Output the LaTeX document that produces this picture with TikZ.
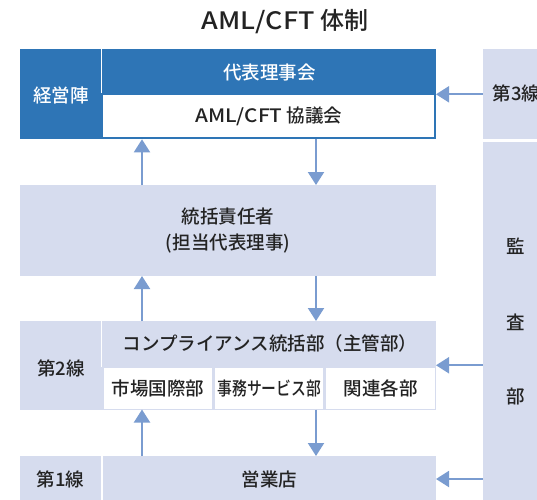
\documentclass[tikz,border=0pt]{standalone}
\usepackage{fontspec}
\usepackage{graphicx}
\setmainfont{Noto Sans CJK JP}[UprightFont=* Medium]
\usetikzlibrary{arrows.meta}
\definecolor{dblue}{RGB}{46,117,182}
\definecolor{lfill}{RGB}{214,220,238}
\definecolor{acol}{RGB}{122,156,208}
\definecolor{tcol}{RGB}{35,35,35}
\newcommand{\wlat}[1]{\scalebox{1.12}[1]{#1}}
\begin{document}
\begin{tikzpicture}[x=1pt,y=-1pt,
  font=\fontsize{18.5}{26}\selectfont,
  box/.style={anchor=north west, inner sep=0pt, outer sep=0pt, text=tcol},
  lbox/.style={box, fill=lfill},
  wbox/.style={box, fill=white},
  lbl/.style={text=tcol, inner sep=0pt},
  arr/.style={draw=acol, line width=2pt, -{Triangle[width=16pt,length=13pt]}}]
\clip (0,0) rectangle (537,499);
\useasboundingbox (0,0) rectangle (537,499);
% title
\node[lbl, font=\fontsize{24}{28}\selectfont] (title) at (285,22) {\wlat{AML/CFT} 体制};
% management block
\node[box, fill=dblue, minimum width=416pt, minimum height=90pt] (top) at (20,49.3) {};
\node[wbox, minimum width=330.7pt, minimum height=42pt] (aml) at (103.3,95) {\wlat{AML/CFT} 協議会};
\draw[white, line width=1.5pt] (101.7,49.3) -- (101.7,93.3);
\node[lbl, text=white] (mgmt) at (61,95) {経営陣};
\node[lbl, text=white] (board) at (269.5,72) {代表理事会};
% chief officer
\node[lbox, minimum width=416pt, minimum height=91pt, align=center] (gov) at (20,185) {統括責任者\\(担当代表理事)};
% second line
\node[lbox, minimum width=416pt, minimum height=88.5pt] (sec) at (20,321) {};
\draw[white, line width=1.5pt] (101.7,321) -- (101.7,367);
\node[lbl] (l2) at (61,368) {第2線};
\node[lbl] (comp) at (270,343.3) {コンプライアンス統括部（主管部）};
\node[wbox, minimum width=108.2pt, minimum height=41.5pt] (m1) at (104,367.5) {市場国際部};
\node[wbox, minimum width=108.2pt, minimum height=41.5pt] (m2) at (215.2,367.5) {\scalebox{0.8}[1]{事務サービス部}};
\node[wbox, minimum width=108.2pt, minimum height=41.5pt] (m3) at (326.4,367.5) {関連各部};
% first line
\node[lbox, minimum width=80.8pt, minimum height=46pt] (first) at (20,456) {第1線};
\node[lbox, minimum width=332.7pt, minimum height=46pt] (shop) at (103.3,456) {営業店};
% third line / audit
\node[lbox, minimum width=70pt, minimum height=89.2pt] (third) at (482.5,49.3) {};
\node[lbl, anchor=west] (l3) at (492.5,93.5) {第3線};
\node[lbox, minimum width=66.5pt, minimum height=368.5pt] (audit) at (482.5,141.5) {};
\node[lbl] (a1) at (516,246.7) {監};
\node[lbl] (a2) at (516,322.7) {査};
\node[lbl] (a3) at (516,396.7) {部};
% connectors
\coordinate (xu) at (142,0);
\coordinate (xd) at (316,0);
\draw[arr] (gov.north -| xu) -- (top.south -| xu);
\draw[arr] (top.south -| xd) -- (gov.north -| xd);
\draw[arr] (sec.north -| xu) -- (gov.south -| xu);
\draw[arr] (gov.south -| xd) -- (sec.north -| xd);
\draw[arr] (shop.north -| xu) -- (sec.south -| xu);
\draw[arr] (sec.south -| xd) -- (shop.north -| xd);
\draw[arr] (third.west |- top.east) -- (top.east);
\draw[arr] (audit.west |- sec.east) -- (sec.east);
\draw[arr] (audit.west |- shop.east) -- (shop.east);
\end{tikzpicture}
\end{document}
